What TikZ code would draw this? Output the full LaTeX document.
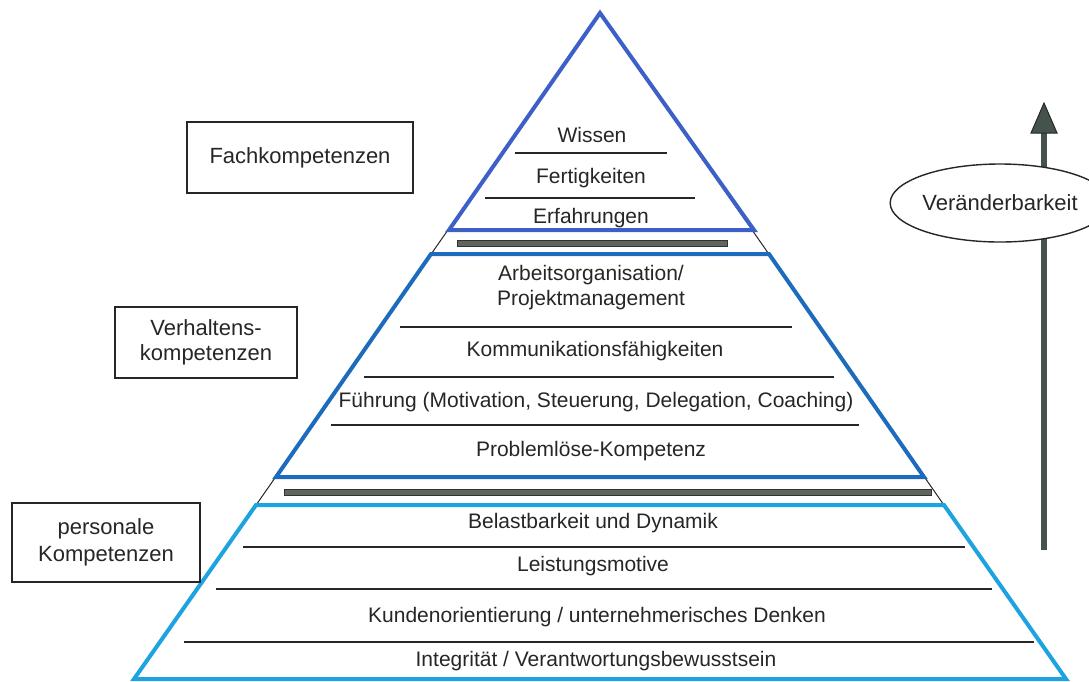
\documentclass[tikz,border=0pt]{standalone}
\usepackage{fontspec}
\setmainfont{Liberation Sans}
\usetikzlibrary{shapes.geometric}
\definecolor{bluetop}{HTML}{3C5FC8}
\definecolor{bluemid}{HTML}{1C6BBC}
\definecolor{bluebot}{HTML}{1CA3E0}
\definecolor{bargray}{HTML}{5E665F}
\definecolor{txtgray}{HTML}{262626}
\definecolor{arrgray}{HTML}{46524C}
\tikzset{
  lvl/.style={text=txtgray, font=\fontsize{21}{24}\selectfont, inner sep=0pt},
  lbox/.style={draw=txtgray, line width=1.4pt, text=txtgray, align=center,
    font=\fontsize{22}{26}\selectfont, inner sep=0pt},
  sep/.style={draw=txtgray, line width=1.5pt},
  blueline/.style={line width=4pt, line join=miter},
  gbar/.style={fill=bargray, draw=black!80, line width=0.8pt}
}
\begin{document}
\begin{tikzpicture}[x=1pt,y=-1pt]
\useasboundingbox (0,0) rectangle (1089,681);
% outer thin sides
\draw[black!85, line width=1pt] (600,12) -- (134,680);
\draw[black!85, line width=1pt] (600,12) -- (1066,680);
% grey bars
\draw[gbar] (457,240) rectangle (727,246);
\draw[gbar] (284,489) rectangle (931,495);
% top triangle
\draw[blueline, draw=bluetop] (600,13) -- (449,230) -- (754,230) -- cycle;
% middle trapezoid
\draw[blueline, draw=bluemid] (431,254) -- (769,254) -- (924,477) -- (276,477) -- cycle;
% bottom trapezoid
\draw[blueline, draw=bluebot] (256,505) -- (944,505) -- (1066,679) -- (134,679) -- cycle;
% separators
\draw[sep] (515,153) -- (667,153);
\draw[sep] (485,198) -- (695,198);
\draw[sep] (400,327) -- (792,327);
\draw[sep] (364,377) -- (834,377);
\draw[sep] (331,425) -- (859,425);
\draw[sep] (243,547) -- (965,547);
\draw[sep] (216,589) -- (992,589);
\draw[sep] (184,642) -- (1034,642);
% texts
\node[lvl] (wissen) at (592,135) {Wissen};
\node[lvl] (fertig) at (591,178) {Fertigkeiten};
\node[lvl] (erfahr) at (591,218) {Erfahrungen};
\node[lvl, align=center, font=\fontsize{21}{25}\selectfont] (arbeit) at (591,288) {Arbeitsorganisation/\\Projektmanagement};
\node[lvl] (komm) at (595,351) {Kommunikationsfähigkeiten};
\node[lvl] (fuehr) at (596,402) {Führung (Motivation, Steuerung, Delegation, Coaching)};
\node[lvl] (probl) at (591,451) {Problemlöse-Kompetenz};
\node[lvl] (belast) at (593,523) {Belastbarkeit und Dynamik};
\node[lvl] (leist) at (593,566) {Leistungsmotive};
\node[lvl] (kunde) at (597,617) {Kundenorientierung / unternehmerisches Denken};
\node[lvl] (integ) at (596,661) {Integrität / Verantwortungsbewusstsein};
% left boxes
\node[lbox, minimum width=226pt, minimum height=71pt] (fach) at (300,157.5) {Fachkompetenzen};
\node[lbox, minimum width=182pt, minimum height=71pt, font=\fontsize{22}{25}\selectfont] (verh) at (206,342.5) {Verhaltens-\\kompetenzen};
\node[lbox, minimum width=188pt, minimum height=79pt, font=\fontsize{22}{27}\selectfont] (pers) at (106,542.5) {personale\\Kompetenzen};
% arrow
\coordinate (arrbot) at (1044,550);
\coordinate (arrneck) at (1044,131);
\coordinate (arrtip) at (1044,103);
\draw[arrgray, line width=6pt] (arrbot) -- (arrneck);
\filldraw[fill=arrgray, draw=black!85, line width=1pt, line join=miter] (arrtip) -- ++(-13,30) -- ++(26,0) -- cycle;
% ellipse
\node[ellipse, draw=black!85, line width=1.4pt, fill=white, text=txtgray,
  minimum width=186pt, minimum height=78pt, inner sep=0pt,
  font=\fontsize{22}{26}\selectfont] (veraend) at (1000,203) {Veränderbarkeit};
\end{tikzpicture}
\end{document}
